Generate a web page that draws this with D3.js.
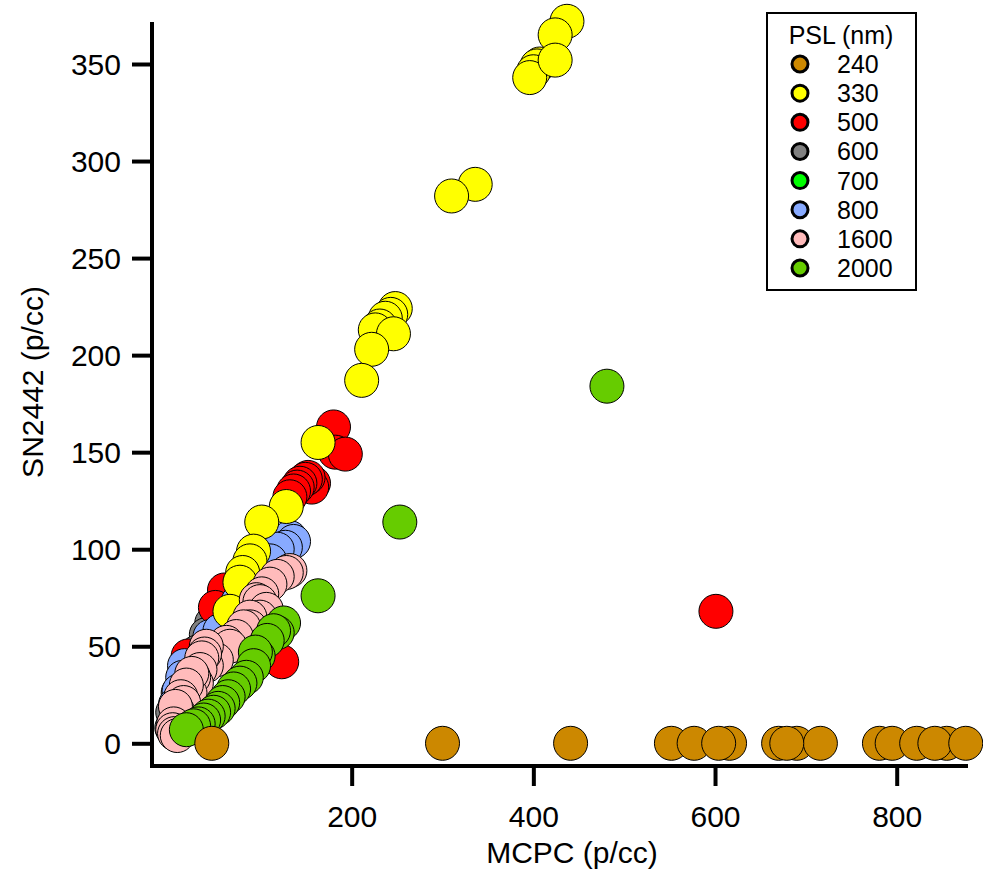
<!DOCTYPE html>
<html>
<head>
<meta charset="utf-8">
<script src="https://cdn.jsdelivr.net/npm/d3@7"></script>
<style>
  html, body { margin: 0; padding: 0; background: #fff; }
  svg { display: block; font-family: "Liberation Sans", Arial, Helvetica, sans-serif; }
</style>
</head>
<body>
<svg id="chart" width="983" height="871"></svg>
<script>
// PSL size classes (nm) in legend order, with their fill colours
const pslLabels = ["240", "330", "500", "600", "700", "800", "1600", "2000"];
const pslColors = ["#CC8800", "#FFFF00", "#FF0000", "#808080", "#00FF00", "#88AAFF", "#FFBBBB", "#66CC00"];

// [MCPC (p/cc), SN2442 (p/cc)] pairs for each PSL size
const psl240 = [[46,0],[300,0],[441,0],[552,0],[577,0],[616,0],[604,0],[690,0],[670,0],[716,0],[679,0],
                [781,0],[795,0],[855,0],[822,0],[842,0],[876,0]];
const psl330 = [[437,372],[424,365],[407,350],[404,349],[400,346],[396,343],[424,352],[336,288],[310,282],
                [248,224],[243,221],[237,219],[231,215],[226,213],[246,211],[222,203],[211,187],[163,155],
                [128,122],[101,114],[92,99],[88,94],[80,88],[77,83],[66,68]];
const psl500 = [[601,68],[180,163],[182,150],[193,149],[158,134],[156,132],[152,137],[149,136],[143,134],
                [140,132],[136,130],[132,127],[123,42],[60,79],[50,70],[20,45]];
const psl600 = [[56,72],[46,62],[40,56],[30,47],[18,36],[9,26],[3,16],[2,8]];
const psl700 = [[55,59],[44,51],[28,38]];
const psl800 = [[132,106],[136,104],[127,101],[118,100],[110,94],[95,84],[88,84],[80,79],[86,82],
                [75,73],[51,54],[44,55],[55,58],[16,40],[14,34],[10,27],[6,20]];
const psl1600 = [[132,89],[128,88],[118,86],[110,82],[101,77],[95,74],[99,73],[106,69],[99,65],[88,65],
                 [88,60],[81,60],[73,55],[62,52],[66,50],[51,43],[40,50],[40,40],[38,46],[35,44],[33,38],
                 [29,31],[26,34],[22,26],[24,36],[18,30],[12,24],[15,21],[9,16],[6,19],[4,10],[3,7],[5,5],[8,4]];
const psl2000 = [[481,184],[253,114],[163,76],[125,62],[118,57],[114,58],[107,53],[97,45],[94,47],[92,40],
                 [84,34],[77,31],[70,28],[64,24],[58,21],[53,18],[48,16],[42,14],[37,12],[31,10],[26,9],[18,7]];

const seriesByLabel = {
  "240": psl240, "330": psl330, "500": psl500, "600": psl600,
  "700": psl700, "800": psl800, "1600": psl1600, "2000": psl2000
};
// stacking order of the markers (last drawn sits on top)
const drawOrder = ["600", "700", "500", "800", "330", "1600", "2000", "240"];

const xTicks = [200, 400, 600, 800];
const yTicks = [0, 50, 100, 150, 200, 250, 300, 350];

const svg = d3.select("#chart");

const x = d3.scaleLinear().domain([0, 800]).range([170, 896.7]);
const y = d3.scaleLinear().domain([0, 350]).range([743.3, 64]);

const axisLeft = 152, axisBottom = 766, axisRight = 968, axisTop = 22;

// markers
const plot = svg.append("g");
drawOrder.forEach(lbl => {
  const color = pslColors[pslLabels.indexOf(lbl)];
  plot.append("g")
    .selectAll("circle")
    .data(seriesByLabel[lbl])
    .join("circle")
    .attr("cx", d => x(d[0]))
    .attr("cy", d => y(d[1]))
    .attr("r", 17)
    .attr("fill", color)
    .attr("stroke", "#000")
    .attr("stroke-width", 1);
});

// axes
const xAxis = d3.axisBottom(x).tickValues(xTicks).tickSize(20).tickPadding(12).tickFormat(d3.format("d"));
const gx = svg.append("g").attr("transform", `translate(0,${axisBottom})`).call(xAxis);
gx.select(".domain").remove();
gx.append("line").attr("x1", axisLeft - 2).attr("x2", axisRight).attr("y1", 0).attr("y2", 0)
  .attr("stroke", "#000").attr("stroke-width", 4);
gx.selectAll(".tick line").attr("stroke", "#000").attr("stroke-width", 4);
gx.selectAll(".tick text").attr("font-size", 30).attr("fill", "#000")
  .attr("font-family", "Liberation Sans, Arial, sans-serif")
  .attr("dy", null).attr("y", 50).attr("dominant-baseline", "central");

const yAxis = d3.axisLeft(y).tickValues(yTicks).tickSize(20).tickPadding(11).tickFormat(d3.format("d"));
const gy = svg.append("g").attr("transform", `translate(${axisLeft},0)`).call(yAxis);
gy.select(".domain").remove();
gy.append("line").attr("x1", 0).attr("x2", 0).attr("y1", axisTop).attr("y2", axisBottom + 2)
  .attr("stroke", "#000").attr("stroke-width", 4);
gy.selectAll(".tick line").attr("stroke", "#000").attr("stroke-width", 4);
gy.selectAll(".tick text").attr("font-size", 30).attr("fill", "#000")
  .attr("font-family", "Liberation Sans, Arial, sans-serif")
  .attr("dy", null).attr("dominant-baseline", "central");

// axis titles
svg.append("text")
  .attr("x", 572).attr("y", 852)
  .attr("text-anchor", "middle").attr("dominant-baseline", "central")
  .attr("font-size", 30).text("MCPC (p/cc)");
svg.append("text")
  .attr("transform", "translate(32,382) rotate(-90)")
  .attr("text-anchor", "middle").attr("dominant-baseline", "central")
  .attr("font-size", 30).text("SN2442 (p/cc)");

// legend
const legend = svg.append("g");
legend.append("rect")
  .attr("x", 767).attr("y", 13).attr("width", 149).attr("height", 277)
  .attr("fill", "#fff").attr("stroke", "#000").attr("stroke-width", 2);
legend.append("text")
  .attr("x", 841).attr("y", 35)
  .attr("text-anchor", "middle").attr("dominant-baseline", "central")
  .attr("font-size", 25).text("PSL (nm)");
const rowY = d3.scaleLinear().domain([0, pslLabels.length - 1]).range([64, 268]);
const items = legend.selectAll("g.item").data(pslLabels).join("g").attr("class", "item")
  .attr("transform", (d, i) => `translate(0,${rowY(i)})`);
items.append("circle")
  .attr("cx", 800).attr("cy", 0).attr("r", 8)
  .attr("fill", (d, i) => pslColors[i]).attr("stroke", "#000").attr("stroke-width", 3);
items.append("text")
  .attr("x", 837).attr("y", 0).attr("dominant-baseline", "central")
  .attr("font-size", 25).text(d => d);
</script>
</body>
</html>
